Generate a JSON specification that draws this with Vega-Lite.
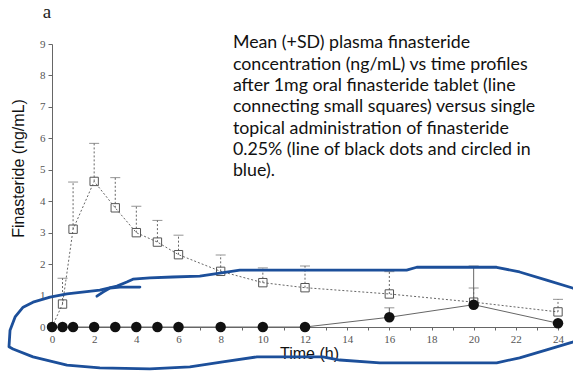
{
  "$schema": "https://vega.github.io/schema/vega-lite/v6.json",
  "width": 506,
  "height": 283,
  "autosize": {"type": "none"},
  "padding": {"left": 52, "top": 44, "right": 15, "bottom": 60},
  "background": "white",
  "config": {
    "view": {"stroke": null},
    "axis": {"labelFont": "Liberation Serif", "labelFontSize": 11, "labelColor": "#555", "labelPadding": 3,
      "titleFont": "Liberation Sans", "titleFontSize": 16, "titleFontWeight": "normal", "titleColor": "#111",
      "tickColor": "#666", "domainColor": "#666", "grid": false, "labelFlush": false, "labelOverlap": false}
  },
  "datasets": {
    "pk": [
      {"group": "oral", "t": 0, "mean": 0, "upper": 0},
      {"group": "oral", "t": 0.5, "mean": 0.73, "upper": 1.55},
      {"group": "oral", "t": 1, "mean": 3.11, "upper": 4.61},
      {"group": "oral", "t": 2, "mean": 4.63, "upper": 5.84},
      {"group": "oral", "t": 3, "mean": 3.79, "upper": 4.75},
      {"group": "oral", "t": 4, "mean": 3.0, "upper": 3.84},
      {"group": "oral", "t": 5, "mean": 2.7, "upper": 3.39},
      {"group": "oral", "t": 6, "mean": 2.3, "upper": 2.92},
      {"group": "oral", "t": 8, "mean": 1.77, "upper": 2.29},
      {"group": "oral", "t": 10, "mean": 1.41, "upper": 1.88},
      {"group": "oral", "t": 12, "mean": 1.25, "upper": 1.94},
      {"group": "oral", "t": 16, "mean": 1.05, "upper": 1.76},
      {"group": "oral", "t": 20, "mean": 0.79, "upper": 1.24},
      {"group": "oral", "t": 24, "mean": 0.48, "upper": 0.88},
      {"group": "topical", "t": 0, "mean": 0, "upper": 0},
      {"group": "topical", "t": 0.5, "mean": 0, "upper": 0},
      {"group": "topical", "t": 1, "mean": 0, "upper": 0},
      {"group": "topical", "t": 2, "mean": 0, "upper": 0},
      {"group": "topical", "t": 3, "mean": 0, "upper": 0},
      {"group": "topical", "t": 4, "mean": 0, "upper": 0},
      {"group": "topical", "t": 5, "mean": 0, "upper": 0},
      {"group": "topical", "t": 6, "mean": 0, "upper": 0},
      {"group": "topical", "t": 8, "mean": 0, "upper": 0},
      {"group": "topical", "t": 10, "mean": 0, "upper": 0},
      {"group": "topical", "t": 12, "mean": 0, "upper": 0},
      {"group": "topical", "t": 16, "mean": 0.31, "upper": 0.61},
      {"group": "topical", "t": 20, "mean": 0.71, "upper": 1.94},
      {"group": "topical", "t": 24, "mean": 0.12, "upper": 0.12}
    ],
    "outline": [
      {"stroke": "main", "k": 1, "x": 25.5, "y": -0.29},
      {"stroke": "main", "k": 2, "x": 24.69, "y": -0.48},
      {"stroke": "main", "k": 3, "x": 23.46, "y": -0.73},
      {"stroke": "main", "k": 4, "x": 22.18, "y": -0.98},
      {"stroke": "main", "k": 5, "x": 21.09, "y": -1.14},
      {"stroke": "main", "k": 6, "x": 15.55, "y": -1.14},
      {"stroke": "main", "k": 7, "x": 13.65, "y": -1.05},
      {"stroke": "main", "k": 8, "x": 12.84, "y": -0.95},
      {"stroke": "main", "k": 9, "x": 9.72, "y": -0.95},
      {"stroke": "main", "k": 10, "x": 8.1, "y": -1.11},
      {"stroke": "main", "k": 11, "x": 6.54, "y": -1.27},
      {"stroke": "main", "k": 12, "x": 4.64, "y": -1.33},
      {"stroke": "main", "k": 13, "x": 2.27, "y": -1.3},
      {"stroke": "main", "k": 14, "x": 0.71, "y": -1.21},
      {"stroke": "main", "k": 15, "x": -0.9, "y": -0.95},
      {"stroke": "main", "k": 16, "x": -1.85, "y": -0.7},
      {"stroke": "main", "k": 17, "x": -2.04, "y": -0.63},
      {"stroke": "main", "k": 18, "x": -1.99, "y": -0.1},
      {"stroke": "main", "k": 19, "x": -1.75, "y": 0.32},
      {"stroke": "main", "k": 20, "x": -1.37, "y": 0.63},
      {"stroke": "main", "k": 21, "x": -0.9, "y": 0.79},
      {"stroke": "main", "k": 22, "x": -0.09, "y": 0.95},
      {"stroke": "main", "k": 23, "x": 0.71, "y": 1.05},
      {"stroke": "main", "k": 24, "x": 2.27, "y": 1.17},
      {"stroke": "main", "k": 25, "x": 3.08, "y": 1.3},
      {"stroke": "main", "k": 26, "x": 3.55, "y": 1.43},
      {"stroke": "main", "k": 27, "x": 3.84, "y": 1.52},
      {"stroke": "main", "k": 28, "x": 4.64, "y": 1.56},
      {"stroke": "main", "k": 29, "x": 5.73, "y": 1.59},
      {"stroke": "main", "k": 30, "x": 7.01, "y": 1.62},
      {"stroke": "main", "k": 31, "x": 7.96, "y": 1.71},
      {"stroke": "main", "k": 32, "x": 8.91, "y": 1.81},
      {"stroke": "main", "k": 33, "x": 13.65, "y": 1.81},
      {"stroke": "main", "k": 34, "x": 16.82, "y": 1.81},
      {"stroke": "main", "k": 35, "x": 17.3, "y": 1.9},
      {"stroke": "main", "k": 36, "x": 21.09, "y": 1.9},
      {"stroke": "main", "k": 37, "x": 22.18, "y": 1.75},
      {"stroke": "main", "k": 38, "x": 23.46, "y": 1.49},
      {"stroke": "main", "k": 39, "x": 24.69, "y": 1.24},
      {"stroke": "main", "k": 40, "x": 25.5, "y": 1.05},
      {"stroke": "hook", "k": 1, "x": 2.13, "y": 0.98},
      {"stroke": "hook", "k": 2, "x": 2.42, "y": 1.11},
      {"stroke": "hook", "k": 3, "x": 2.75, "y": 1.24},
      {"stroke": "hook", "k": 4, "x": 3.22, "y": 1.27},
      {"stroke": "hook", "k": 5, "x": 4.17, "y": 1.27}
    ],
    "notes": [
      {"kind": "panel", "x": -0.24, "y": 9.84, "label": "a"},
      {"kind": "caption", "x": 8.58, "y": 8.86, "label": "Mean (+SD) plasma finasteride\nconcentration (ng/mL) vs time profiles\nafter 1mg oral finasteride tablet (line\nconnecting small squares) versus single\ntopical administration of finasteride\n0.25% (line of black dots and circled in\nblue)."}
    ]
  },
  "layer": [
    {
      "data": {"name": "pk"},
      "transform": [{"filter": "datum.group == 'oral'"}],
      "mark": {"type": "line", "color": "#666", "strokeWidth": 1, "strokeDash": [2, 2]},
      "encoding": {
        "x": {"field": "t", "type": "quantitative", "scale": {"domain": [0, 24], "nice": false},
          "axis": {"values": [0,1,2,3,4,5,6,7,8,9,10,11,12,13,14,15,16,17,18,19,20,21,22,23,24], "labelExpr": "datum.value % 2 == 0 ? datum.label : ''", "title": "Time (h)", "titleX": 257, "titleY": 26, "titleBaseline": "middle", "titleAlign": "center", "tickSize": 3}},
        "y": {"field": "mean", "type": "quantitative", "scale": {"domain": [0, 9], "nice": false},
          "axis": {"values": [0,1,2,3,4,5,6,7,8,9], "title": "Finasteride (ng/mL)", "titleX": -34, "titleY": 124, "titleAngle": -90, "titleBaseline": "middle", "titleAlign": "center", "tickSize": 4}}
      }
    },
    {
      "data": {"name": "pk"},
      "transform": [{"filter": "datum.group == 'oral' && datum.upper > datum.mean"}],
      "mark": {"type": "rule", "color": "#666", "strokeWidth": 1, "strokeDash": [2, 2]},
      "encoding": {
        "x": {"field": "t", "type": "quantitative", "scale": {"domain": [0, 24], "nice": false},
          "axis": {"values": [0,1,2,3,4,5,6,7,8,9,10,11,12,13,14,15,16,17,18,19,20,21,22,23,24], "labelExpr": "datum.value % 2 == 0 ? datum.label : ''", "title": "Time (h)", "titleX": 257, "titleY": 26, "titleBaseline": "middle", "titleAlign": "center", "tickSize": 3}},
        "y": {"field": "mean", "type": "quantitative", "scale": {"domain": [0, 9], "nice": false},
          "axis": {"values": [0,1,2,3,4,5,6,7,8,9], "title": "Finasteride (ng/mL)", "titleX": -34, "titleY": 124, "titleAngle": -90, "titleBaseline": "middle", "titleAlign": "center", "tickSize": 4}},
        "y2": {"field": "upper"}
      }
    },
    {
      "data": {"name": "pk"},
      "transform": [{"filter": "datum.upper > datum.mean"}],
      "mark": {"type": "tick", "orient": "horizontal", "color": "#666", "size": 10, "thickness": 1},
      "encoding": {
        "x": {"field": "t", "type": "quantitative", "scale": {"domain": [0, 24], "nice": false},
          "axis": {"values": [0,1,2,3,4,5,6,7,8,9,10,11,12,13,14,15,16,17,18,19,20,21,22,23,24], "labelExpr": "datum.value % 2 == 0 ? datum.label : ''", "title": "Time (h)", "titleX": 257, "titleY": 26, "titleBaseline": "middle", "titleAlign": "center", "tickSize": 3}},
        "y": {"field": "upper", "type": "quantitative", "scale": {"domain": [0, 9], "nice": false},
          "axis": {"values": [0,1,2,3,4,5,6,7,8,9], "title": "Finasteride (ng/mL)", "titleX": -34, "titleY": 124, "titleAngle": -90, "titleBaseline": "middle", "titleAlign": "center", "tickSize": 4}}
      }
    },
    {
      "data": {"name": "pk"},
      "transform": [{"filter": "datum.group == 'topical' && datum.upper > datum.mean"}],
      "mark": {"type": "rule", "color": "#666", "strokeWidth": 1},
      "encoding": {
        "x": {"field": "t", "type": "quantitative", "scale": {"domain": [0, 24], "nice": false},
          "axis": {"values": [0,1,2,3,4,5,6,7,8,9,10,11,12,13,14,15,16,17,18,19,20,21,22,23,24], "labelExpr": "datum.value % 2 == 0 ? datum.label : ''", "title": "Time (h)", "titleX": 257, "titleY": 26, "titleBaseline": "middle", "titleAlign": "center", "tickSize": 3}},
        "y": {"field": "mean", "type": "quantitative", "scale": {"domain": [0, 9], "nice": false},
          "axis": {"values": [0,1,2,3,4,5,6,7,8,9], "title": "Finasteride (ng/mL)", "titleX": -34, "titleY": 124, "titleAngle": -90, "titleBaseline": "middle", "titleAlign": "center", "tickSize": 4}},
        "y2": {"field": "upper"}
      }
    },
    {
      "data": {"name": "pk"},
      "transform": [{"filter": "datum.group == 'topical'"}],
      "mark": {"type": "line", "color": "#666", "strokeWidth": 1},
      "encoding": {
        "x": {"field": "t", "type": "quantitative", "scale": {"domain": [0, 24], "nice": false},
          "axis": {"values": [0,1,2,3,4,5,6,7,8,9,10,11,12,13,14,15,16,17,18,19,20,21,22,23,24], "labelExpr": "datum.value % 2 == 0 ? datum.label : ''", "title": "Time (h)", "titleX": 257, "titleY": 26, "titleBaseline": "middle", "titleAlign": "center", "tickSize": 3}},
        "y": {"field": "mean", "type": "quantitative", "scale": {"domain": [0, 9], "nice": false},
          "axis": {"values": [0,1,2,3,4,5,6,7,8,9], "title": "Finasteride (ng/mL)", "titleX": -34, "titleY": 124, "titleAngle": -90, "titleBaseline": "middle", "titleAlign": "center", "tickSize": 4}}
      }
    },
    {
      "data": {"name": "pk"},
      "transform": [{"filter": "datum.group == 'oral' && datum.t > 0"}],
      "mark": {"type": "point", "shape": "square", "filled": false, "color": "#555", "strokeWidth": 1, "size": 70, "opacity": 1},
      "encoding": {
        "x": {"field": "t", "type": "quantitative", "scale": {"domain": [0, 24], "nice": false},
          "axis": {"values": [0,1,2,3,4,5,6,7,8,9,10,11,12,13,14,15,16,17,18,19,20,21,22,23,24], "labelExpr": "datum.value % 2 == 0 ? datum.label : ''", "title": "Time (h)", "titleX": 257, "titleY": 26, "titleBaseline": "middle", "titleAlign": "center", "tickSize": 3}},
        "y": {"field": "mean", "type": "quantitative", "scale": {"domain": [0, 9], "nice": false},
          "axis": {"values": [0,1,2,3,4,5,6,7,8,9], "title": "Finasteride (ng/mL)", "titleX": -34, "titleY": 124, "titleAngle": -90, "titleBaseline": "middle", "titleAlign": "center", "tickSize": 4}}
      }
    },
    {
      "data": {"name": "pk"},
      "transform": [{"filter": "datum.group == 'topical'"}],
      "mark": {"type": "circle", "color": "#111", "size": 110, "opacity": 1},
      "encoding": {
        "x": {"field": "t", "type": "quantitative", "scale": {"domain": [0, 24], "nice": false},
          "axis": {"values": [0,1,2,3,4,5,6,7,8,9,10,11,12,13,14,15,16,17,18,19,20,21,22,23,24], "labelExpr": "datum.value % 2 == 0 ? datum.label : ''", "title": "Time (h)", "titleX": 257, "titleY": 26, "titleBaseline": "middle", "titleAlign": "center", "tickSize": 3}},
        "y": {"field": "mean", "type": "quantitative", "scale": {"domain": [0, 9], "nice": false},
          "axis": {"values": [0,1,2,3,4,5,6,7,8,9], "title": "Finasteride (ng/mL)", "titleX": -34, "titleY": 124, "titleAngle": -90, "titleBaseline": "middle", "titleAlign": "center", "tickSize": 4}}
      }
    },
    {
      "data": {"name": "outline"},
      "mark": {"type": "line", "color": "#1c4f9a", "strokeWidth": 2.8, "interpolate": "linear", "strokeCap": "round", "strokeJoin": "round"},
      "encoding": {
        "x": {"field": "x", "type": "quantitative", "scale": {"domain": [0, 24], "nice": false},
          "axis": {"values": [0,1,2,3,4,5,6,7,8,9,10,11,12,13,14,15,16,17,18,19,20,21,22,23,24], "labelExpr": "datum.value % 2 == 0 ? datum.label : ''", "title": "Time (h)", "titleX": 257, "titleY": 26, "titleBaseline": "middle", "titleAlign": "center", "tickSize": 3}},
        "y": {"field": "y", "type": "quantitative", "scale": {"domain": [0, 9], "nice": false},
          "axis": {"values": [0,1,2,3,4,5,6,7,8,9], "title": "Finasteride (ng/mL)", "titleX": -34, "titleY": 124, "titleAngle": -90, "titleBaseline": "middle", "titleAlign": "center", "tickSize": 4}},
        "detail": {"field": "stroke"},
        "order": {"field": "k"}
      }
    },
    {
      "data": {"name": "notes"},
      "transform": [{"filter": "datum.kind == 'panel'"}],
      "mark": {"type": "text", "font": "Liberation Serif", "fontSize": 19, "align": "center", "baseline": "alphabetic", "color": "#222"},
      "encoding": {
        "x": {"field": "x", "type": "quantitative", "scale": {"domain": [0, 24], "nice": false},
          "axis": {"values": [0,1,2,3,4,5,6,7,8,9,10,11,12,13,14,15,16,17,18,19,20,21,22,23,24], "labelExpr": "datum.value % 2 == 0 ? datum.label : ''", "title": "Time (h)", "titleX": 257, "titleY": 26, "titleBaseline": "middle", "titleAlign": "center", "tickSize": 3}},
        "y": {"field": "y", "type": "quantitative", "scale": {"domain": [0, 9], "nice": false},
          "axis": {"values": [0,1,2,3,4,5,6,7,8,9], "title": "Finasteride (ng/mL)", "titleX": -34, "titleY": 124, "titleAngle": -90, "titleBaseline": "middle", "titleAlign": "center", "tickSize": 4}},
        "text": {"field": "label"}
      }
    },
    {
      "data": {"name": "notes"},
      "transform": [{"filter": "datum.kind == 'caption'"}],
      "mark": {"type": "text", "font": "Lato", "fontSize": 17.8, "lineHeight": 21.3, "lineBreak": "\n", "align": "left", "baseline": "alphabetic", "color": "#111"},
      "encoding": {
        "x": {"field": "x", "type": "quantitative", "scale": {"domain": [0, 24], "nice": false},
          "axis": {"values": [0,1,2,3,4,5,6,7,8,9,10,11,12,13,14,15,16,17,18,19,20,21,22,23,24], "labelExpr": "datum.value % 2 == 0 ? datum.label : ''", "title": "Time (h)", "titleX": 257, "titleY": 26, "titleBaseline": "middle", "titleAlign": "center", "tickSize": 3}},
        "y": {"field": "y", "type": "quantitative", "scale": {"domain": [0, 9], "nice": false},
          "axis": {"values": [0,1,2,3,4,5,6,7,8,9], "title": "Finasteride (ng/mL)", "titleX": -34, "titleY": 124, "titleAngle": -90, "titleBaseline": "middle", "titleAlign": "center", "tickSize": 4}},
        "text": {"field": "label"}
      }
    }
  ]
}
